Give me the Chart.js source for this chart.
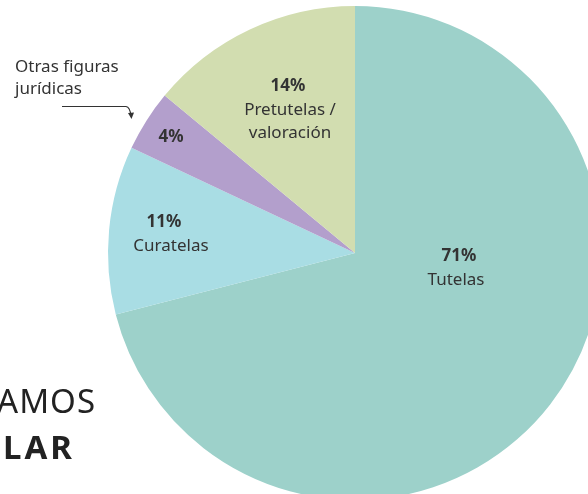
<!DOCTYPE html>
<html>
<head>
<meta charset="utf-8">
<script src="https://cdn.jsdelivr.net/npm/chart.js@4"></script>
<style>
  html, body { margin: 0; padding: 0; background: #fff; overflow: hidden; }
  #wrap { position: absolute; left: 0; top: 0; width: 710px; height: 506px; }
</style>
</head>
<body>
<div id="wrap"><canvas id="pie" width="710" height="506"></canvas></div>
<script>
const categories = ["Tutelas", "Curatelas", "Otras figuras jurídicas", "Pretutelas / valoración"];
const shares = [71, 11, 4, 14];
const percentLabels = ["71%", "11%", "4%", "14%"];
const sliceText = [["Tutelas"], ["Curatelas"], [], ["Pretutelas /", "valoración"]];
const colors = ["#9dd1ca", "#a9dde4", "#b39fcc", "#d2ddb0"];

const FONT = "'Noto Sans', sans-serif";
const INK = "#333333";

// label anchors, relative to the pie centre
const labelOffsets = [[104, 3], [-191, -31], [-184, -116], [-67, -167]];

const backdropText = {
  id: "backdropText",
  beforeDraw(chart) {
    const ctx = chart.ctx;
    ctx.save();
    ctx.fillStyle = "#222";
    ctx.textAlign = "right";
    ctx.textBaseline = "alphabetic";
    ctx.font = "400 33px " + FONT;
    ctx.letterSpacing = "1px";
    ctx.fillText("AMOS", 96, 413);
    ctx.font = "700 33px " + FONT;
    ctx.letterSpacing = "3px";
    ctx.fillText("LAR", 75, 459);
    ctx.restore();
  },
};

const sliceLabels = {
  id: "sliceLabels",
  afterDraw(chart) {
    const ctx = chart.ctx;
    const arcs = chart.getDatasetMeta(0).data;
    ctx.save();
    ctx.fillStyle = INK;
    ctx.textAlign = "center";
    ctx.textBaseline = "middle";
    arcs.forEach((arc, i) => {
      const x = arc.x + labelOffsets[i][0];
      const y = arc.y + labelOffsets[i][1];
      ctx.font = "700 17px " + FONT;
      ctx.fillText(percentLabels[i], x, y);
      ctx.font = "400 17px " + FONT;
      sliceText[i].forEach((line, j) => {
        ctx.fillText(line, x + (i === 1 ? 7 : i === 3 ? 2 : -3), y + 24 + j * 23);
      });
    });

    // callout for the small slice
    ctx.textAlign = "left";
    ctx.textBaseline = "alphabetic";
    ctx.font = "400 17px " + FONT;
    ctx.fillText("Otras figuras", 15, 72);
    ctx.fillText("jurídicas", 15, 94);
    ctx.strokeStyle = INK;
    ctx.lineWidth = 1.2;
    ctx.beginPath();
    ctx.moveTo(62, 106.5);
    ctx.lineTo(126, 106.5);
    ctx.quadraticCurveTo(130, 107, 131, 116);
    ctx.stroke();
    ctx.beginPath();
    ctx.moveTo(128, 113);
    ctx.lineTo(131.5, 119);
    ctx.lineTo(134, 112.5);
    ctx.fill();
    ctx.restore();
  },
};

new Chart(document.getElementById("pie"), {
  type: "pie",
  data: {
    labels: categories,
    datasets: [
      {
        data: shares,
        backgroundColor: colors,
        borderWidth: 0,
      },
    ],
  },
  options: {
    responsive: false,
    animation: false,
    layout: { padding: 6 },
    plugins: {
      legend: { display: false },
      tooltip: { enabled: false },
    },
  },
  plugins: [backdropText, sliceLabels],
});
</script>
</body>
</html>
